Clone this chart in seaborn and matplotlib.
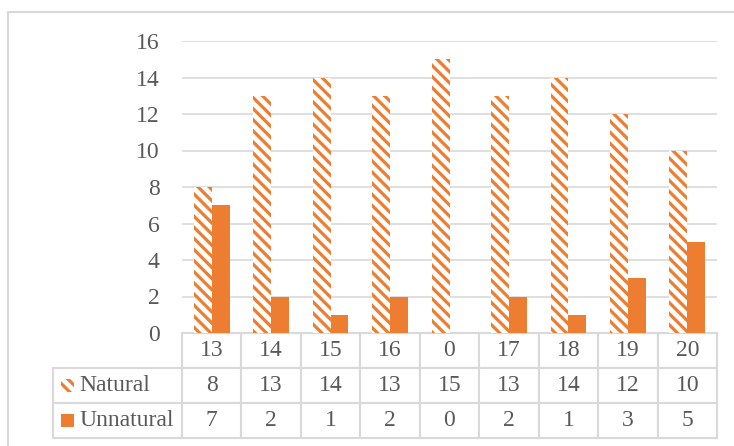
import matplotlib
matplotlib.use("Agg")
import matplotlib.pyplot as plt
import matplotlib.patches as mpatches
import pandas as pd
import seaborn as sns

# data
categories = ["13", "14", "15", "16", "0", "17", "18", "19", "20"]
natural = [8, 13, 14, 13, 15, 13, 14, 12, 10]
unnatural = [7, 2, 1, 2, 0, 2, 1, 3, 5]
series = ["Natural", "Unnatural"]

orange = "#ED7D31"
grey_text = "#595959"
grey_line = "#D9D9D9"
stripes = "\\\\\\"

sns.set_style("white")
plt.rcParams["font.family"] = ["Liberation Serif", "DejaVu Serif"]
plt.rcParams["hatch.linewidth"] = 2.3
plt.rcParams["hatch.color"] = orange

df = pd.DataFrame({
    "cat": categories * 2,
    "value": natural + unnatural,
    "series": [series[0]] * len(categories) + [series[1]] * len(categories),
})

fig = plt.figure(figsize=(7.34, 4.46), dpi=100)
W, H = 734, 446
ax_w, ax_h = 717 - 182, 333 - 41
ax = fig.add_axes([182 / W, 1 - 333 / H, ax_w / W, ax_h / H])

sns.barplot(data=df, x="cat", y="value", hue="series", order=categories,
            hue_order=series, palette=[orange, orange], width=0.6,
            errorbar=None, ax=ax, legend=False, saturation=1)

# Natural bars: white with orange diagonal stripes
for bar in ax.containers[0]:
    bar.set_facecolor("white")
    bar.set_edgecolor(orange)
    bar.set_hatch(stripes)
    bar.set_linewidth(0)
for bar in ax.containers[1]:
    bar.set_linewidth(0)

ax.set_ylim(0, 16)
ax.set_yticks(range(0, 17, 2))
ax.tick_params(axis="y", length=0, pad=16, labelsize=17, labelcolor=grey_text)
ax.set_xticks([])
ax.set_xlabel("")
ax.set_ylabel("")
ax.yaxis.grid(True, color=grey_line, linewidth=1.2)
ax.set_axisbelow(True)
for s in ax.spines.values():
    s.set_visible(False)

# data table below the plot
row_h = 35 / ax_h
lab_w = 129 / ax_w
cells = [[""] + categories,
         [series[0]] + [str(v) for v in natural],
         [series[1]] + [str(v) for v in unnatural]]
tbl = ax.table(cellText=cells, cellLoc="center",
               colWidths=[lab_w] + [1 / 9] * 9,
               bbox=[-lab_w, -3 * row_h, 1 + lab_w, 3 * row_h])
tbl.auto_set_font_size(False)
for (r, c), cell in tbl.get_celld().items():
    cell.set_edgecolor(grey_line)
    cell.set_linewidth(1.5)
    cell.get_text().set_fontsize(17)
    cell.get_text().set_color(grey_text)
    if c == 0:
        cell._loc = "left"
        cell.PAD = 26 / 129
        cell.get_text().set_horizontalalignment("left")
    if r == 0 and c == 0:
        cell.visible_edges = ""

# legend keys inside the row-label cells
key = 13
for i, face in enumerate(["white", orange]):
    yc = -(1.5 + i) * row_h
    ax.add_patch(mpatches.Rectangle(
        ((61 - 182) / ax_w, yc - key / 2 / ax_h), key / ax_w, key / ax_h,
        transform=ax.transAxes, clip_on=False, facecolor=face,
        edgecolor=orange, linewidth=0, hatch=stripes if i == 0 else None))

# chart area border
fig.patches.append(mpatches.Rectangle((8 / W, -0.1), 2, 1 - 12 / H + 0.1,
                                      transform=fig.transFigure, fill=False,
                                      edgecolor=grey_line, linewidth=1.5))

fig.savefig("out.png", dpi=100)
